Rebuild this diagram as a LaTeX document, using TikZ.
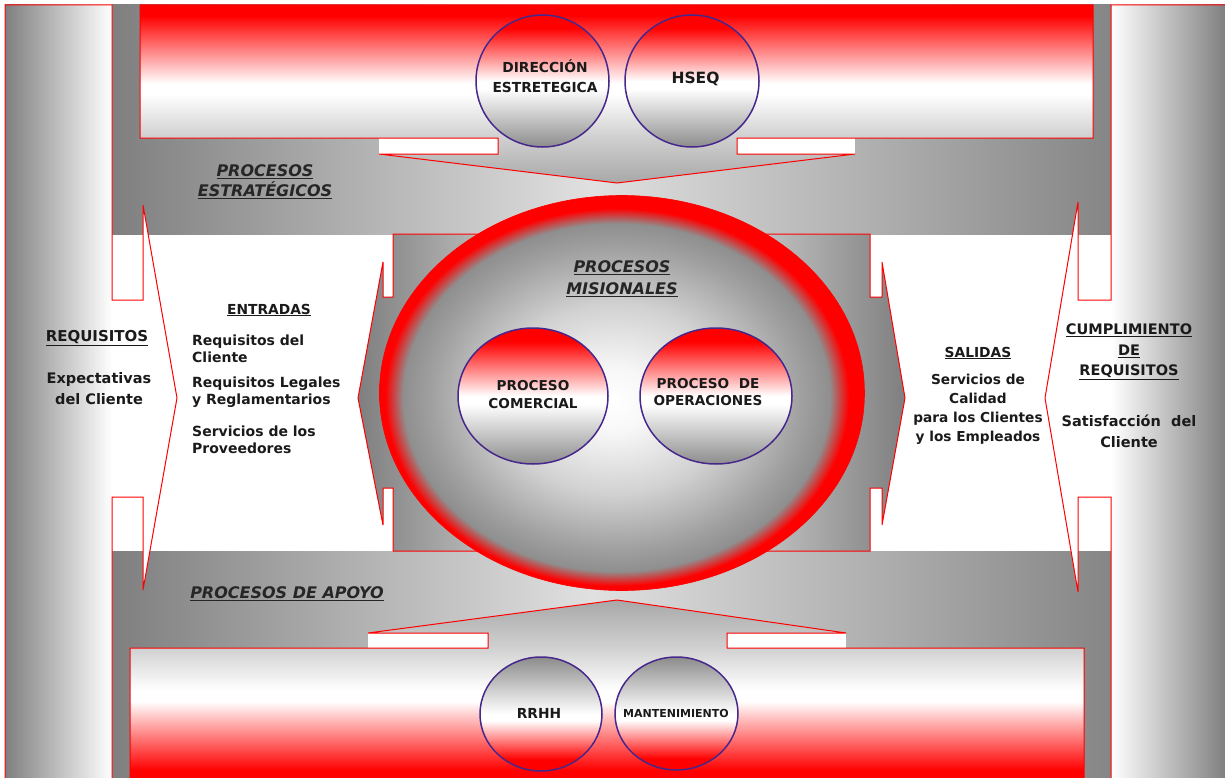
\documentclass[tikz,border=0pt]{standalone}
\usepackage{fontspec}
\setmainfont{DejaVu Sans}
\usetikzlibrary{shapes.geometric}
\definecolor{dg}{HTML}{7F7F7F}
\definecolor{mg}{HTML}{A8A8A8}
\definecolor{lg}{HTML}{D0D0D0}
\definecolor{cg}{HTML}{8C8C8C}
\definecolor{rr}{HTML}{FF0000}
\definecolor{pur}{RGB}{70,40,140}
\definecolor{txt}{HTML}{1A1A1A}
\pgfdeclarehorizontalshading{bandsh}{100bp}{color(0bp)=(dg); color(25bp)=(dg); color(49bp)=(white!88!black); color(75bp)=(dg!95!white); color(100bp)=(dg!95!white)}
\pgfdeclarehorizontalshading{censh}{100bp}{color(0bp)=(dg); color(25bp)=(dg); color(50bp)=(white); color(75bp)=(dg); color(100bp)=(dg)}
\pgfdeclareverticalshading{topsh}{100bp}{color(0bp)=(mg); color(25bp)=(mg); color(38bp)=(lg); color(50bp)=(white); color(53bp)=(white); color(72bp)=(rr); color(100bp)=(rr)}
\pgfdeclareverticalshading{botsh}{100bp}{color(0bp)=(rr); color(28bp)=(rr); color(47bp)=(white); color(50bp)=(white); color(62bp)=(lg); color(75bp)=(mg); color(100bp)=(mg)}
\pgfdeclareverticalshading{ctopsh}{100bp}{color(0bp)=(cg); color(25bp)=(cg); color(47bp)=(white); color(50bp)=(white); color(70bp)=(rr); color(100bp)=(rr)}
\pgfdeclareverticalshading{cbotsh}{100bp}{color(0bp)=(rr); color(30bp)=(rr); color(47bp)=(white); color(50bp)=(white); color(75bp)=(cg); color(100bp)=(cg)}
\pgfdeclareradialshading{ellsh}{\pgfpoint{-1bp}{-1bp}}{color(0bp)=(white); color(4bp)=(white!97!black); color(12bp)=(white!82!black); color(19bp)=(white!63!black); color(22bp)=(white!56!black); color(23.9bp)=(rr); color(25bp)=(rr); color(50bp)=(rr)}
\tikzset{
  callout/.style={draw=rr, line width=1bp, line join=miter},
  circ/.style={ellipse, draw=pur, line width=1.5bp, inner sep=0pt, shade},
  lbl/.style={inner sep=0pt, align=center, text=txt},
  lbll/.style={inner sep=0pt, align=left, anchor=west, text=txt},
  head/.style={inner sep=0pt, align=center, text=black!85, font=\fontsize{16bp}{20bp}\selectfont\bfseries\itshape}
}
\begin{document}
\begin{tikzpicture}[x=1bp,y=-1bp]
\useasboundingbox (0,0) rectangle (1225,778);
% gray bands
\shade[shading=bandsh] (112,5) rectangle (1111,234);
\shade[shading=bandsh] (112,551) rectangle (1111,781);
% white gaps beside arrow necks
\fill[white] (379,138) rectangle (498,154);
\fill[white] (737,138) rectangle (855,154);
\fill[white] (368,633) rectangle (488,648);
\fill[white] (727,633) rectangle (846,648);
% strategic processes callout (down arrow)
\shadedraw[callout, shading=topsh] (140,5) -- (1093,5) -- (1093,138) -- (737,138) -- (737,154) -- (855,154) -- (617,183) -- (379,154) -- (498,154) -- (498,138) -- (140,138) -- cycle;
% support processes callout (up arrow)
\shadedraw[callout, shading=botsh] (130,781) -- (130,648) -- (488,648) -- (488,633) -- (368,633) -- (617,600) -- (846,633) -- (727,633) -- (727,648) -- (1084,648) -- (1084,781) -- cycle;
% left column callout
\fill[white] (5,5) -- (112,5) -- (112,300) -- (143,300) -- (143,205) -- (177,398) -- (143,590) -- (143,497) -- (112,497) -- (112,781) -- (5,781) -- cycle;
\shade[left color=dg, right color=white] (5,5) rectangle (112,781);
\draw[callout] (5,5) -- (112,5) -- (112,300) -- (143,300) -- (143,205) -- (177,398) -- (143,590) -- (143,497) -- (112,497) -- (112,781) -- (5,781) -- cycle;
% right column callout
\fill[white] (1226,5) -- (1111,5) -- (1111,300) -- (1078,300) -- (1078,202) -- (1045,398) -- (1078,592) -- (1078,497) -- (1111,497) -- (1111,781) -- (1226,781) -- cycle;
\shade[left color=white, right color=dg] (1111,5) rectangle (1226,781);
\draw[callout] (1226,5) -- (1111,5) -- (1111,300) -- (1078,300) -- (1078,202) -- (1045,398) -- (1078,592) -- (1078,497) -- (1111,497) -- (1111,781) -- (1226,781) -- cycle;
% central left-right callout
\shadedraw[callout, shading=censh] (393,234) -- (870,234) -- (870,297) -- (882,297) -- (882,262) -- (905,398) -- (882,525) -- (882,488) -- (870,488) -- (870,551) -- (393,551) -- (393,488) -- (383,488) -- (383,525) -- (358,398) -- (383,262) -- (383,297) -- (393,297) -- cycle;
% big ellipse
\node[ellipse, shade, shading=ellsh, draw=rr, line width=.6bp, minimum width=485bp, minimum height=395bp, inner sep=0pt] (ell) at (622,393) {};
% circles
\node[circ, shading=ctopsh, minimum width=133bp, minimum height=132bp] (dir) at (542.5,81) {};
\node[circ, shading=ctopsh, minimum width=134bp, minimum height=132bp] (hseq) at (692,81) {};
\node[circ, shading=ctopsh, minimum width=150bp, minimum height=136bp] (com) at (533,396) {};
\node[circ, shading=ctopsh, minimum width=152bp, minimum height=136bp] (ope) at (716,396) {};
\node[circ, shading=cbotsh, minimum width=122bp, minimum height=114bp] (rrhh) at (541,714) {};
\node[circ, shading=cbotsh, minimum width=123bp, minimum height=113bp] (man) at (676.5,713.5) {};
% circle labels
\node[lbl, font=\fontsize{13.8bp}{20bp}\selectfont\bfseries] (dirt) at (545,76) {DIRECCIÓN\\ESTRETEGICA};
\node[lbl, font=\fontsize{15.5bp}{18bp}\selectfont\bfseries] (hseqt) at (695.5,79) {HSEQ};
\node[lbl, font=\fontsize{13.6bp}{18bp}\selectfont\bfseries] (comt) at (533,395) {PROCESO\\COMERCIAL};
\node[lbl, font=\fontsize{13.6bp}{17bp}\selectfont\bfseries] (opet) at (708,392) {PROCESO\ \ DE\\OPERACIONES};
\node[lbl, font=\fontsize{13.8bp}{17bp}\selectfont\bfseries] (rrhht) at (539,713) {RRHH};
\node[lbl, font=\fontsize{11bp}{14bp}\selectfont\bfseries] (mant) at (676,713) {MANTENIMIENTO};
% headings
\node[head] (hest) at (265,182) {\underline{PROCESOS}\\\underline{ESTRATÉGICOS}};
\node[head, font=\fontsize{16bp}{22bp}\selectfont\bfseries\itshape] (hmis) at (622,279) {\underline{PROCESOS}\\\underline{MISIONALES}};
\node[head] (hapo) at (287,594) {\underline{PROCESOS DE APOYO}};
% left texts
\node[lbl, font=\fontsize{15bp}{20bp}\selectfont\bfseries] (req) at (97,338) {\underline{REQUISITOS}};
\node[lbl, font=\fontsize{14.5bp}{21bp}\selectfont\bfseries] (exp) at (99,389) {Expectativas\\del Cliente};
\node[lbl, font=\fontsize{13.8bp}{17bp}\selectfont\bfseries] (ent) at (269,310) {\underline{ENTRADAS}};
\node[lbll, font=\fontsize{14bp}{17bp}\selectfont\bfseries] (e1) at (192,349) {Requisitos del\\Cliente};
\node[lbll, font=\fontsize{14bp}{17bp}\selectfont\bfseries] (e2) at (192,392.5) {Requisitos Legales\\y Reglamentarios};
\node[lbll, font=\fontsize{14bp}{17bp}\selectfont\bfseries] (e3) at (192,439.5) {Servicios de los\\Proveedores};
% right texts
\node[lbl, font=\fontsize{13.8bp}{17bp}\selectfont\bfseries] (sal) at (978,353) {\underline{SALIDAS}};
\node[lbl, font=\fontsize{13.7bp}{19bp}\selectfont\bfseries] (s1) at (978,409) {Servicios de\\Calidad\\para los Clientes\\y los Empleados};
\node[lbl, font=\fontsize{14.5bp}{20.5bp}\selectfont\bfseries] (cum) at (1129,352) {\underline{CUMPLIMIENTO}\\\underline{DE}\\\underline{REQUISITOS}};
\node[lbl, font=\fontsize{14.5bp}{21bp}\selectfont\bfseries] (sat) at (1129,431) {Satisfacción\ \ del\\Cliente};
\end{tikzpicture}
\end{document}
